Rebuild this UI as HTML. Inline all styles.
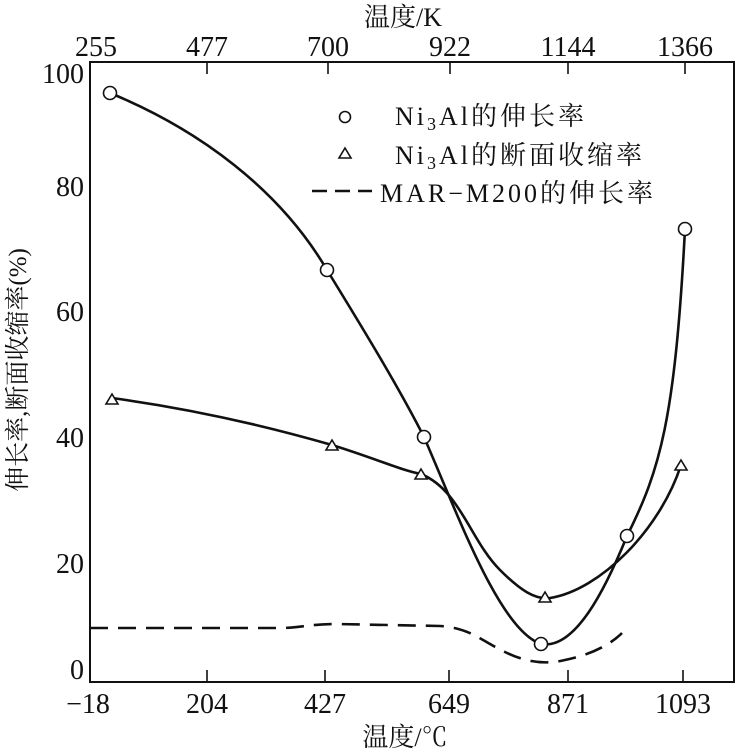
<!DOCTYPE html>
<html><head><meta charset="utf-8"><style>
body{margin:0;background:#fff;}
svg text{font-family:"Liberation Serif","Noto Serif CJK SC",serif;fill:#111;}
</style></head><body>
<svg width="736" height="751" viewBox="0 0 736 751" xmlns="http://www.w3.org/2000/svg">
<rect x="90" y="62" width="644" height="620" fill="none" stroke="#111" stroke-width="2"/>
<g stroke="#111" stroke-width="1.6">
<line x1="207" y1="682" x2="207" y2="670"/><line x1="325" y1="682" x2="325" y2="670"/>
<line x1="449" y1="682" x2="449" y2="670"/><line x1="568" y1="682" x2="568" y2="670"/>
<line x1="683" y1="682" x2="683" y2="670"/>
<line x1="207" y1="62" x2="207" y2="74"/><line x1="328" y1="62" x2="328" y2="74"/>
<line x1="450" y1="62" x2="450" y2="74"/><line x1="568" y1="62" x2="568" y2="74"/>
<line x1="685" y1="62" x2="685" y2="74"/>
</g>
<g font-size="28" text-anchor="middle">
<text x="88" y="713">−18</text><text x="207" y="713">204</text><text x="325" y="713">427</text>
<text x="449" y="713">649</text><text x="568" y="713">871</text><text x="683" y="713">1093</text>
<text x="96" y="56">255</text><text x="207" y="56">477</text><text x="328" y="56">700</text>
<text x="450" y="56">922</text><text x="568" y="56">1144</text><text x="685" y="56">1366</text>
</g>
<g font-size="26" text-anchor="middle">
<text x="403" y="26">温度/K</text>
<text x="405" y="746">温度/℃</text>
</g>
<g font-size="28" text-anchor="end">
<text x="84" y="83">100</text><text x="84" y="196">80</text><text x="84" y="321">60</text>
<text x="84" y="447">40</text><text x="84" y="573">20</text><text x="84" y="679">0</text>
</g>
<text transform="translate(26,370) rotate(-90)" font-size="25" text-anchor="middle">伸长率,断面收缩率(%)</text>
<g fill="none" stroke="#111" stroke-width="2.6">
<path d="M110,93 C200,130 280,190 327,270 C370,340 400,390 424,437 C460,520 500,630 541,644 C575,650 605,590 627,536 C660,470 675,420 685,229"/>
<path d="M112,398 C200,410 280,430 332,445 C380,460 400,470 421,474 C460,490 470,540 500,570 C520,590 535,600 550,598 C600,590 660,530 681,465"/>
<path d="M90,628 L280,628 C300,628 310,624 335,624 L440,626 C470,628 480,640 505,652 C525,662 545,665 565,660 C590,655 610,645 622,633" stroke-dasharray="18,10"/>
<line x1="312" y1="191" x2="372" y2="191" stroke-dasharray="15,8"/>
</g>
<g fill="#fff" stroke="#111" stroke-width="1.6">
<circle cx="110" cy="93" r="6.5"/><circle cx="327" cy="270" r="6.5"/><circle cx="424" cy="437" r="6.5"/>
<circle cx="541" cy="644" r="6.5"/><circle cx="627" cy="536" r="6.5"/><circle cx="685" cy="229" r="6.5"/>
<circle cx="345" cy="117" r="5.5"/>
<polygon points="112,394 106,404 118,404"/><polygon points="332,440 326,450 338,450"/>
<polygon points="421,469 415,479 427,479"/><polygon points="545,592 539,602 551,602"/>
<polygon points="681,460 675,470 687,470"/><polygon points="345,148 339,158 351,158"/>
</g>
<g font-size="26" letter-spacing="3">
<text x="395" y="125">Ni<tspan font-size="18" dy="5">3</tspan><tspan dy="-5">Al的伸长率</tspan></text>
<text x="395" y="164">Ni<tspan font-size="18" dy="5">3</tspan><tspan dy="-5">Al的断面收缩率</tspan></text>
<text x="380" y="202">MAR−M200的伸长率</text>
</g>
</svg>
</body></html>
